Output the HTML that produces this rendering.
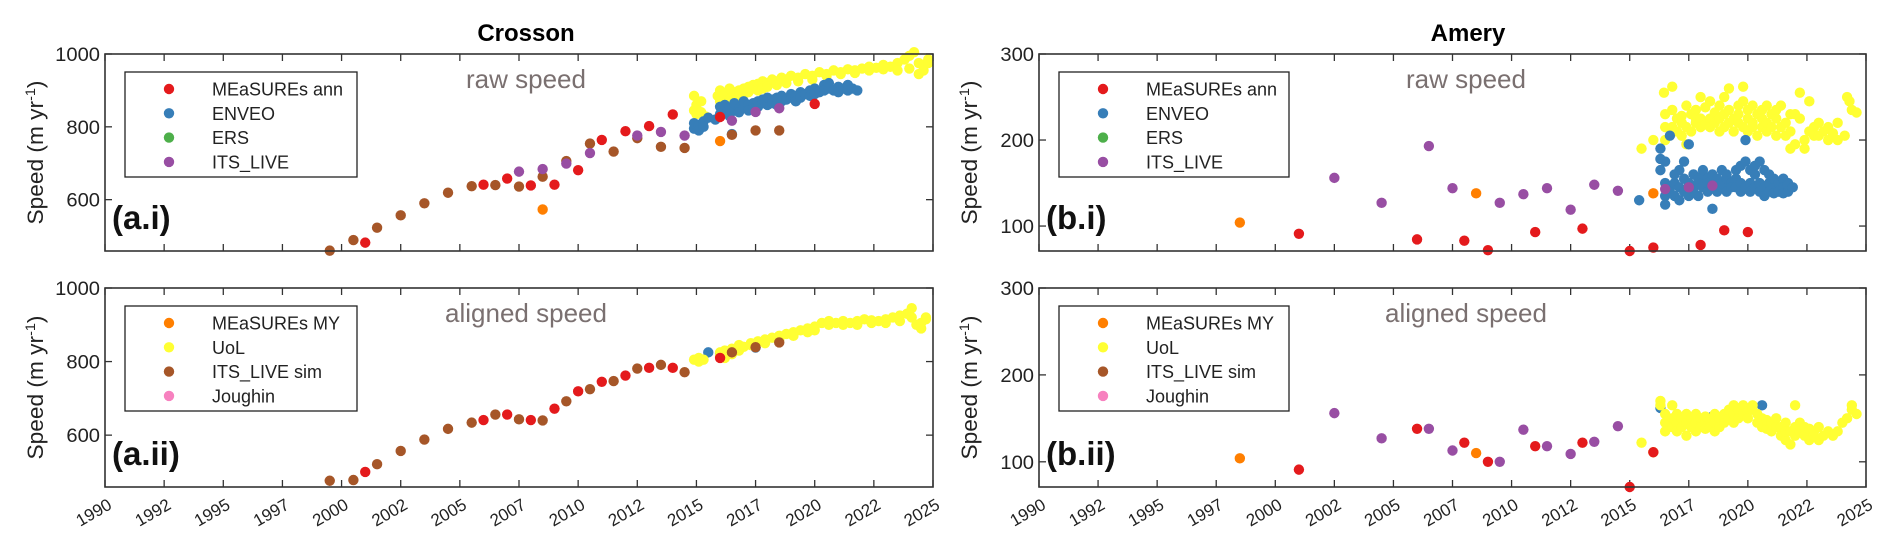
<!DOCTYPE html>
<html><head><meta charset="utf-8"><style>
html,body{margin:0;padding:0;background:#fff;}
svg{display:block;font-family:"Liberation Sans",Arial,sans-serif;}
</style></head><body>
<svg id="chart" width="1892" height="553" viewBox="0 0 1892 553" xmlns="http://www.w3.org/2000/svg"></svg>
<script>
// ---------- data ----------
const xTickYears=[1990,1992.5,1995,1997.5,2000,2002.5,2005,2007.5,2010,2012.5,2015,2017.5,2020,2022.5,2025];
const xTickLabels=["1990","1992","1995","1997","2000","2002","2005","2007","2010","2012","2015","2017","2020","2022","2025"];
const crossonTicks=[600,800,1000];
const ameryTicks=[100,200,300];

// Crosson raw
const crRawYellow=[[2014.9,885],[2014.9,845],[2015.0,835],[2015.0,860],[2015.2,870],[2015.2,840],[2015.4,828],[2015.9,885],[2016.0,870],[2016.0,900],[2016.2,890],[2016.2,860],[2016.4,905],[2016.4,875],[2016.6,895],[2016.6,880],[2016.8,900],[2016.8,885],[2017.0,905],[2017.0,890],[2017.2,910],[2017.2,895],[2017.4,905],[2017.4,915],[2017.6,918],[2017.6,900],[2017.8,925],[2017.8,905],[2018.0,920],[2018.0,910],[2018.2,930],[2018.4,925],[2018.4,915],[2018.6,935],[2018.8,930],[2018.8,920],[2019.0,940],[2019.3,935],[2019.3,925],[2019.6,945],[2019.9,940],[2019.9,930],[2020.2,950],[2020.5,945],[2020.5,940],[2020.8,955],[2021.1,950],[2021.1,945],[2021.4,958],[2021.7,955],[2021.7,948],[2022.0,960],[2022.3,955],[2022.3,965],[2022.6,962],[2022.9,958],[2022.9,970],[2023.2,965],[2023.5,975],[2023.5,955],[2023.8,985],[2024.0,960],[2024.0,995],[2024.2,1005],[2024.4,975],[2024.4,945],[2024.6,955],[2024.6,970],[2024.8,985],[2024.8,975]];
const crRawBlue=[[2014.9,795],[2014.9,810],[2015.1,805],[2015.1,790],[2015.3,815],[2015.3,800],[2015.5,825],[2015.8,820],[2016.0,855],[2016.0,835],[2016.2,840],[2016.2,860],[2016.4,830],[2016.4,850],[2016.6,845],[2016.6,865],[2016.8,850],[2016.8,840],[2017.0,855],[2017.0,870],[2017.2,860],[2017.2,845],[2017.4,865],[2017.4,850],[2017.6,870],[2017.6,855],[2017.8,865],[2017.8,875],[2018.0,860],[2018.0,880],[2018.2,875],[2018.2,865],[2018.4,880],[2018.4,860],[2018.6,885],[2018.6,870],[2018.8,875],[2019.0,880],[2019.0,890],[2019.2,885],[2019.2,870],[2019.4,895],[2019.4,880],[2019.6,890],[2019.8,900],[2019.8,885],[2020.0,905],[2020.0,890],[2020.2,895],[2020.4,915],[2020.4,900],[2020.6,905],[2020.6,920],[2020.8,900],[2021.0,910],[2021.0,895],[2021.2,905],[2021.4,915],[2021.4,900],[2021.6,905],[2021.8,900],[2016.5,780]];
const crRawBrown=[[1999.5,460],[2000.5,489],[2001.5,523],[2002.5,557],[2003.5,590],[2004.5,619],[2005.5,637],[2006.5,640],[2007.5,636],[2008.5,663],[2009.5,706],[2010.5,754],[2011.5,732],[2012.5,769],[2013.5,745],[2014.5,742],[2016.5,778],[2017.5,790],[2018.5,790]];
const crRawRed=[[2001.0,482],[2006,641],[2007,658],[2008,639],[2009,641],[2010,681],[2011,764],[2012,788],[2013,802],[2014,834],[2016,827],[2020,863]];
const crRawPurple=[[2007.5,677],[2008.5,684],[2009.5,699],[2010.5,728],[2012.5,776],[2013.5,786],[2014.5,776],[2016.5,817],[2017.5,841],[2018.5,851]];
const crRawOrange=[[2008.5,573],[2016,761]];
// Crosson aligned
const crAlYellow=[[2014.9,805],[2015.1,800],[2015.1,810],[2015.3,805],[2016.0,815],[2016.0,825],[2016.2,810],[2016.2,830],[2016.5,835],[2016.5,820],[2016.8,845],[2016.8,830],[2017.0,840],[2017.3,850],[2017.3,845],[2017.6,855],[2017.9,860],[2017.9,850],[2018.2,865],[2018.5,870],[2018.5,860],[2018.8,875],[2019.1,880],[2019.1,870],[2019.4,885],[2019.7,880],[2019.7,890],[2020.0,895],[2020.0,885],[2020.3,905],[2020.6,900],[2020.6,910],[2020.9,905],[2021.2,910],[2021.2,900],[2021.5,905],[2021.8,910],[2021.8,900],[2022.1,915],[2022.4,905],[2022.4,912],[2022.7,910],[2023.0,905],[2023.0,915],[2023.3,920],[2023.6,910],[2023.6,925],[2023.9,930],[2024.1,945],[2024.1,920],[2024.3,900],[2024.5,890],[2024.5,905],[2024.7,915],[2024.7,920]];
const crAlBlue=[[2015.5,825],[2016.0,822],[2017.5,838]];
const crAlBrown=[[1999.5,476],[2000.5,478],[2001.5,521],[2002.5,557],[2003.5,588],[2004.5,617],[2005.5,634],[2006.5,656],[2007.5,643],[2008.5,640],[2009.5,692],[2010.5,725],[2011.5,747],[2012.5,781],[2013.5,791],[2014.5,771],[2016.5,825],[2017.5,839],[2018.5,852]];
const crAlRed=[[2001.0,500],[2006,641],[2007,656],[2008,641],[2009,672],[2010,719],[2011,745],[2012,762],[2013,783],[2014,783],[2016,810]];
// Amery raw
const amRawYellow=[[2015.5,190],[2016.0,200],[2016.45,255],[2016.5,215],[2016.5,230],[2016.5,200],[2016.8,262],[2016.8,235],[2016.8,215],[2017.0,225],[2017.0,210],[2017.2,220],[2017.2,205],[2017.2,228],[2017.4,215],[2017.4,195],[2017.4,240],[2017.6,210],[2017.6,230],[2017.8,235],[2017.8,220],[2017.8,225],[2018.0,250],[2018.0,225],[2018.0,215],[2018.2,238],[2018.2,218],[2018.4,245],[2018.4,225],[2018.4,215],[2018.6,232],[2018.6,220],[2018.8,240],[2018.8,210],[2018.8,225],[2019.0,250],[2019.0,215],[2019.0,230],[2019.2,260],[2019.2,235],[2019.2,220],[2019.4,225],[2019.4,210],[2019.6,240],[2019.6,220],[2019.6,230],[2019.8,262],[2019.8,245],[2019.8,215],[2020.0,235],[2020.0,225],[2020.0,210],[2020.2,220],[2020.2,240],[2020.2,215],[2020.4,230],[2020.4,205],[2020.6,215],[2020.6,235],[2020.6,225],[2020.8,240],[2020.8,210],[2020.8,220],[2021.0,230],[2021.0,215],[2021.2,205],[2021.2,225],[2021.2,235],[2021.4,240],[2021.4,215],[2021.6,220],[2021.6,205],[2021.8,190],[2021.8,210],[2021.8,230],[2022.0,230],[2022.0,195],[2022.2,255],[2022.2,225],[2022.4,190],[2022.4,200],[2022.6,245],[2022.6,210],[2022.8,215],[2022.8,205],[2023.0,220],[2023.0,205],[2023.2,210],[2023.4,215],[2023.4,200],[2023.6,208],[2023.8,220],[2023.8,200],[2024.2,250],[2024.3,245],[2024.1,205],[2024.4,235],[2024.6,232]];
const amRawBlue=[[2015.4,130],[2016.3,190],[2016.3,178],[2016.3,165],[2016.5,175],[2016.5,150],[2016.5,135],[2016.5,125],[2016.7,205],[2016.7,140],[2016.7,145],[2016.9,135],[2016.9,150],[2016.9,160],[2017.1,130],[2017.1,145],[2017.1,165],[2017.3,175],[2017.3,140],[2017.3,155],[2017.5,195],[2017.5,150],[2017.5,135],[2017.7,160],[2017.7,145],[2017.7,140],[2017.9,150],[2017.9,155],[2017.9,135],[2018.1,160],[2018.1,145],[2018.1,165],[2018.3,155],[2018.3,140],[2018.3,150],[2018.5,120],[2018.5,160],[2018.5,145],[2018.7,150],[2018.7,155],[2018.7,140],[2018.9,145],[2018.9,165],[2018.9,150],[2019.1,155],[2019.1,140],[2019.1,160],[2019.3,150],[2019.3,145],[2019.5,155],[2019.5,145],[2019.5,165],[2019.7,170],[2019.7,150],[2019.7,140],[2019.9,200],[2019.9,175],[2019.9,145],[2020.1,150],[2020.1,165],[2020.1,140],[2020.3,160],[2020.3,170],[2020.3,145],[2020.5,175],[2020.5,150],[2020.5,140],[2020.7,165],[2020.7,145],[2020.7,135],[2020.9,150],[2020.9,140],[2020.9,160],[2021.1,145],[2021.1,155],[2021.1,138],[2021.3,150],[2021.3,140],[2021.5,155],[2021.5,145],[2021.5,138],[2021.7,150],[2021.7,140],[2021.7,148],[2021.9,145]];
const amRawRed=[[2001.0,91],[2006,84.5],[2008,83],[2009,72],[2011,93],[2013,97],[2015,71],[2016,75],[2018,78],[2019,95],[2020,93]];
const amRawPurple=[[2002.5,156],[2004.5,127],[2006.5,193],[2007.5,144],[2009.5,127],[2010.5,137],[2011.5,144],[2012.5,119],[2013.5,148],[2014.5,141],[2016.5,143],[2017.5,145],[2018.5,147]];
const amRawOrange=[[1998.5,104],[2008.5,138],[2016,138]];
// Amery aligned
const amAlYellow=[[2015.5,122],[2016.0,111],[2016.3,170],[2016.3,165],[2016.5,145],[2016.5,135],[2016.5,155],[2016.8,165],[2016.8,150],[2016.8,140],[2017.0,145],[2017.0,155],[2017.0,135],[2017.2,150],[2017.2,140],[2017.4,145],[2017.4,155],[2017.4,130],[2017.6,140],[2017.6,150],[2017.8,155],[2017.8,135],[2017.8,145],[2018.0,150],[2018.0,140],[2018.2,145],[2018.2,138],[2018.2,152],[2018.4,148],[2018.4,140],[2018.6,155],[2018.6,135],[2018.6,145],[2018.8,150],[2018.8,140],[2019.0,145],[2019.0,155],[2019.2,150],[2019.2,160],[2019.4,155],[2019.4,145],[2019.4,165],[2019.6,160],[2019.6,150],[2019.8,165],[2019.8,155],[2020.0,158],[2020.0,150],[2020.2,160],[2020.2,165],[2020.4,155],[2020.4,145],[2020.6,150],[2020.6,140],[2020.6,145],[2020.8,138],[2020.8,148],[2021.0,145],[2021.0,135],[2021.2,150],[2021.2,140],[2021.4,140],[2021.4,130],[2021.6,145],[2021.6,125],[2021.6,135],[2021.8,135],[2021.8,120],[2022.0,165],[2022.0,140],[2022.0,130],[2022.2,145],[2022.2,135],[2022.4,130],[2022.4,140],[2022.6,138],[2022.6,125],[2022.8,130],[2022.8,135],[2023.0,125],[2023.0,140],[2023.2,130],[2023.4,135],[2023.6,130],[2023.8,135],[2024.0,145],[2024.2,150],[2024.4,165],[2024.4,160],[2024.6,155]];
const amAlBlue=[[2016.3,162],[2018.5,152],[2020.6,165]];
const amAlRed=[[2001.0,91],[2006,138],[2008,122],[2009,100],[2011,118],[2013,122],[2015,71],[2016,111]];
const amAlPurple=[[2002.5,156],[2004.5,127],[2006.5,138],[2007.5,113],[2009.5,100],[2010.5,137],[2011.5,118],[2012.5,109],[2013.5,123],[2014.5,141]];
const amAlOrange=[[1998.5,104],[2008.5,110]];

const legendRaw=["MEaSUREs ann","ENVEO","ERS","ITS_LIVE"];
const legendAl=["MEaSUREs MY","UoL","ITS_LIVE sim","Joughin"];

// ---------- drawing ----------
const C={red:"#e41a1c",blue:"#377eb8",green:"#4daf4a",purple:"#984ea3",orange:"#ff7f00",yellow:"#ffff33",brown:"#a65628",pink:"#f781bf"};
const legendRawColors=[C.red,C.blue,C.green,C.purple];
const legendAlColors=[C.orange,C.yellow,C.brown,C.pink];
const svg=document.getElementById('chart');
const NS="http://www.w3.org/2000/svg";
function mk(tag,attrs,parent){const e=document.createElementNS(NS,tag);for(const k in attrs)e.setAttribute(k,attrs[k]);(parent||svg).appendChild(e);return e;}

function panel(cfg){
  const g=mk('g',{});
  
  
  const {x0,x1,y0,y1,ymin,ymax}=cfg;
  const sx=v=>x0+(v-1990)/35*(x1-x0);
  const sy=v=>y1-(v-ymin)/(ymax-ymin)*(y1-y0);
  xTickYears.forEach((t,i)=>{
    const x=sx(t);
    const a=mk('line',{x1:x,x2:x,y1:y0,y2:y0+7,stroke:"#333","stroke-width":1.3},g);
    
    
    const b=mk('line',{x1:x,x2:x,y1:y1,y2:y1-7,stroke:"#333","stroke-width":1.3},g);
    
    
    if(cfg.xlabels){
      const tx=mk('text',{x:x+8,y:y1+21,"font-size":17,"text-anchor":"end",fill:"#222",transform:`rotate(-30 ${x+8} ${y1+21})`},g);
      tx.textContent=xTickLabels[i];
      
      
    }
  });
  cfg.yticks.forEach(t=>{
    const y=sy(t);
    const a=mk('line',{x1:x0,x2:x0+7,y1:y,y2:y,stroke:"#333","stroke-width":1.3},g);
    
    
    const b=mk('line',{x1:x1,x2:x1-7,y1:y,y2:y,stroke:"#333","stroke-width":1.3},g);
    
    
    const s=String(t);
    const tx=mk('text',{x:x0-5,y:y+7,"font-size":19,"text-anchor":"end",fill:"#222",textLength:s.length*11.2,lengthAdjust:"spacingAndGlyphs"},g);
    tx.textContent=s;
    
    
  });
  const cy=(y0+y1)/2, lx=cfg.ylabX;
  const yl=mk('text',{x:lx,y:cy,"font-size":22,"text-anchor":"middle",fill:"#222",textLength:144,lengthAdjust:"spacingAndGlyphs",transform:`rotate(-90 ${lx} ${cy})`},g);
  
  
  yl.innerHTML='Speed (m yr<tspan baseline-shift="super" font-size="14">-1</tspan>)';
  const an=mk('text',{x:cfg.annX,y:y0+34,"font-size":26,"text-anchor":"middle",fill:"#7a7070"},g);
  an.textContent=cfg.ann;
  
  
  const pl=mk('text',{x:x0+7,y:y1-22,"font-size":33,"font-weight":"bold",fill:"#111"},g);
  pl.textContent=cfg.label;
  
  
  cfg.series.forEach(s=>{
    const sg=mk('g',{},g);
    
    
    s.data.forEach(p=>{
      const c=mk('circle',{cx:sx(p[0]),cy:sy(p[1]),r:5.2,fill:s.color},sg);
      
      
    });
  });
  const fr=mk('rect',{x:x0,y:y0,width:x1-x0,height:y1-y0,fill:"none",stroke:"#333","stroke-width":1.6},g);
  
  
  const lg=mk('g',{},g);
  
  
  const LX=x0+cfg.legDx, LY=y0+18;
  mk('rect',{x:LX,y:LY,width:cfg.legW,height:105,fill:"#fff",stroke:"#222","stroke-width":1.3},lg);
  cfg.legNames.forEach((n,i)=>{
    const ry=LY+17+i*24.3;
    const c=mk('circle',{cx:LX+44,cy:ry,r:5.2,fill:cfg.legColors[i]},lg);
    
    
    const t=mk('text',{x:LX+87,y:ry+6.5,"font-size":18,fill:"#222"},lg);
    t.textContent=n;
    
    
  });
}

function title(x,t){
  const e=mk('text',{x:x,y:41,"font-size":24,"font-weight":"bold","text-anchor":"middle",fill:"#000"});
  e.textContent=t;
  
  
}
title(526,"Crosson");
title(1468,"Amery");

const L={x0:105,x1:933,ymin:459,ymax:1000,yticks:crossonTicks,ylabX:43,annX:526,legDx:20,legW:232};
const R={x0:1039,x1:1866,ymin:71,ymax:300,yticks:ameryTicks,ylabX:977,annX:1466,legDx:20,legW:230};
panel(Object.assign({},L,{name:"panel-a-i",y0:54,y1:251,xlabels:false,ann:"raw speed",label:"(a.i)",legNames:legendRaw,legColors:legendRawColors,
 series:[{name:"uol-series",data:crRawYellow,color:C.yellow},{name:"enveo-series",data:crRawBlue,color:C.blue},{name:"its-live-sim-series",data:crRawBrown,color:C.brown},{name:"measures-ann-series",data:crRawRed,color:C.red},{name:"its-live-series",data:crRawPurple,color:C.purple},{name:"measures-my-series",data:crRawOrange,color:C.orange}]}));
panel(Object.assign({},L,{name:"panel-a-ii",y0:288,y1:487,xlabels:true,ann:"aligned speed",label:"(a.ii)",legNames:legendAl,legColors:legendAlColors,
 series:[{name:"enveo-series",data:crAlBlue,color:C.blue},{name:"uol-series",data:crAlYellow,color:C.yellow},{name:"measures-ann-series",data:crAlRed,color:C.red},{name:"its-live-sim-series",data:crAlBrown,color:C.brown}]}));
panel(Object.assign({},R,{name:"panel-b-i",y0:54,y1:251,xlabels:false,ann:"raw speed",label:"(b.i)",legNames:legendRaw,legColors:legendRawColors,
 series:[{name:"uol-series",data:amRawYellow,color:C.yellow},{name:"enveo-series",data:amRawBlue,color:C.blue},{name:"measures-ann-series",data:amRawRed,color:C.red},{name:"its-live-series",data:amRawPurple,color:C.purple},{name:"measures-my-series",data:amRawOrange,color:C.orange}]}));
panel(Object.assign({},R,{name:"panel-b-ii",y0:288,y1:487,xlabels:true,ann:"aligned speed",label:"(b.ii)",legNames:legendAl,legColors:legendAlColors,
 series:[{name:"enveo-series",data:amAlBlue,color:C.blue},{name:"uol-series",data:amAlYellow,color:C.yellow},{name:"measures-ann-series",data:amAlRed,color:C.red},{name:"its-live-series",data:amAlPurple,color:C.purple},{name:"measures-my-series",data:amAlOrange,color:C.orange}]}));
</script>
</body></html>
